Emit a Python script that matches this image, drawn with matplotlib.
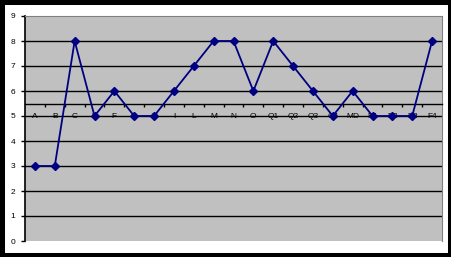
import matplotlib.pyplot as plt
from matplotlib.patches import Rectangle
import numpy as np

# categories along the x axis and the value for each one
categories = ["A", "B", "C", "D", "F", "G", "H", "I", "L", "M", "N",
              "O", "Q1", "Q2", "Q3", "Q4", "MD", "R1", "R2", "R3", "F4"]
values = [3, 3, 8, 5, 6, 5, 5, 6, 7, 8, 8, 6, 8, 7, 6, 5, 6, 5, 5, 5, 8]
y_ticks = list(range(0, 10))

plt.rcParams['font.family'] = ['Liberation Sans', 'DejaVu Sans']

fig = plt.figure(figsize=(4.52, 2.57), dpi=100, facecolor='white')
ax = fig.add_axes([25 / 452, 1 - 241 / 257, 417 / 452, 225 / 257])
ax.set_facecolor('#C0C0C0')

x = np.arange(len(categories))
ax.plot(x, values, color='#000080', linewidth=1.3, marker='D',
        markersize=4, markerfacecolor='#000080', markeredgecolor='#000080',
        zorder=3)

ax.set_xlim(-0.5, len(categories) - 0.5)
ax.set_ylim(0, 9)

# horizontal gridlines
for yv in y_ticks[1:-1]:
    ax.axhline(yv, color='black', linewidth=1, zorder=1)

# the category axis crosses at 5.5
ax.spines['bottom'].set_position(('data', 5.5))
ax.spines['bottom'].set_color('black')
ax.spines['bottom'].set_linewidth(1)
ax.spines['left'].set_color('black')
ax.spines['left'].set_linewidth(1.2)
ax.spines['top'].set_color('#808080')
ax.spines['right'].set_color('#808080')

ax.set_xticks(x)
ax.set_xticklabels(categories, fontsize=6)
ax.tick_params(axis='x', which='major', length=0, pad=7)
ax.set_xticks(x[:-1] + 0.5, minor=True)
ax.tick_params(axis='x', which='minor', length=2.5, width=1, direction='out')

ax.set_yticks(y_ticks)
ax.set_yticklabels([str(v) for v in y_ticks], fontsize=6)
ax.tick_params(axis='y', length=3, width=1, pad=4)

# black frame around the whole picture
fig.patches.append(Rectangle((0, 0), 1, 1, transform=fig.transFigure,
                             fill=False, edgecolor='black', linewidth=6.5))

fig.savefig('out.png', dpi=100)
